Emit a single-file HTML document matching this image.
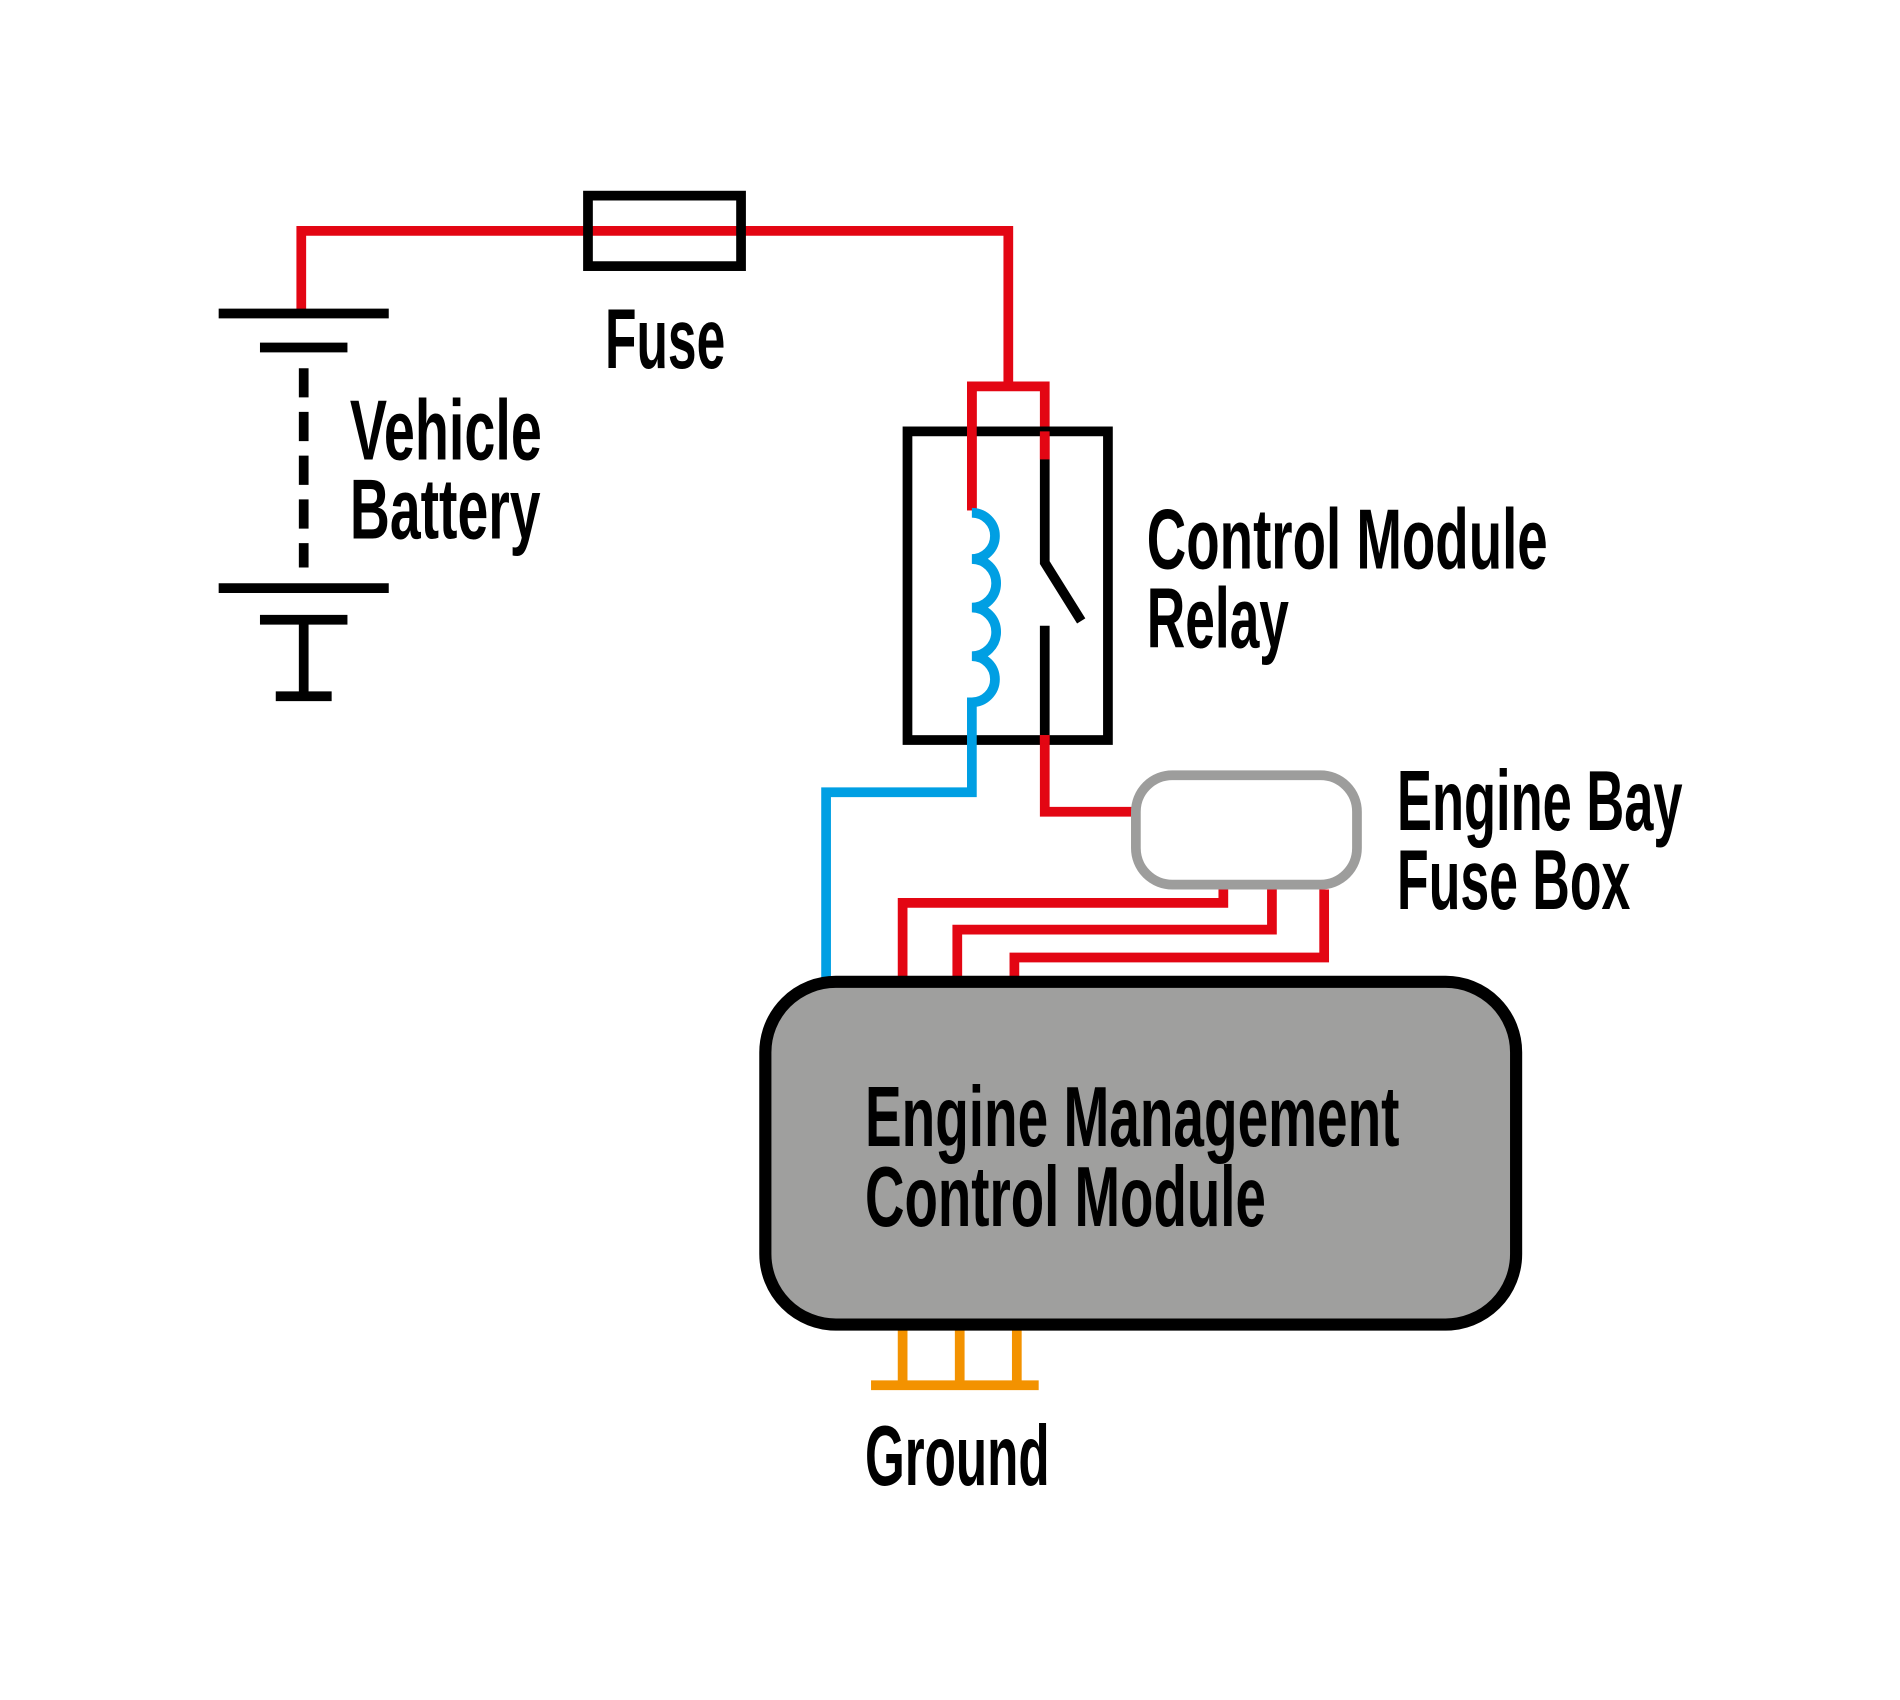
<!DOCTYPE html>
<html><head><meta charset="utf-8"><style>
html,body{margin:0;padding:0;background:#fff;}
svg{display:block;}
text{font-family:"Liberation Sans Narrow","Liberation Sans",sans-serif;font-weight:bold;font-size:70px;fill:#000;}
</style></head><body>
<svg width="1900" height="1700" viewBox="0 0 1564 1399" preserveAspectRatio="none" xmlns="http://www.w3.org/2000/svg">
<g fill="none" stroke-linecap="butt" stroke-linejoin="miter">
<!-- red top wire -->
<path d="M248 257 V190 H830 V318" stroke="#e30613" stroke-width="8"/>
<rect x="484" y="161" width="126" height="58" stroke="#000" stroke-width="8" fill="none"/>
<path d="M800 420 V318 H860 V378" stroke="#e30613" stroke-width="8"/>
<!-- relay box -->
<rect x="747" y="355" width="165" height="254" stroke="#000" stroke-width="8"/>
<path d="M800 420 V318" stroke="#e30613" stroke-width="8"/>
<path d="M860 378 V355" stroke="#e30613" stroke-width="8"/>
<!-- coil -->
<path d="M800 422 A18 18 0 0 1 800 460 A18 18 0 0 1 800 500 A18 18 0 0 1 800 540 A18 18 0 0 1 800 578 V652 H680 V806" stroke="#009fe3" stroke-width="8"/>
<!-- switch -->
<path d="M860 378 V463 L890 511" stroke="#000" stroke-width="8"/>
<path d="M860 515 V605" stroke="#000" stroke-width="8"/>
<path d="M860 605 V668 H935" stroke="#e30613" stroke-width="8"/>
<path d="M860 605 V612" stroke="#e30613" stroke-width="8"/>
<!-- fuse box -->
<rect x="935" y="638" width="182" height="90" rx="30" stroke="#9d9d9c" stroke-width="8" fill="#fff"/>
<!-- red wires to ECM -->
<path d="M1007 732 V743 H743 V808" stroke="#e30613" stroke-width="8"/>
<path d="M1047 732 V765 H788 V808" stroke="#e30613" stroke-width="8"/>
<path d="M1090 732 V788 H835 V808" stroke="#e30613" stroke-width="8"/>
<!-- ground -->
<path d="M743 1090 V1140 M790 1090 V1140 M837 1090 V1140 M717 1140 H855" stroke="#f39200" stroke-width="8"/>
<!-- ECM -->
<rect x="630" y="808" width="618" height="282" rx="58" stroke="#000" stroke-width="10" fill="#9f9f9e"/>
<!-- battery -->
<path d="M180 258 H320 M214 286 H286 M180 484 H320 M214 510 H286 M250 510 V573 M227 573 H273" stroke="#000" stroke-width="8"/>
<path d="M250 303 V467" stroke="#000" stroke-width="8" stroke-dasharray="24 12"/>
</g>
<text x="498" y="303" textLength="99" lengthAdjust="spacingAndGlyphs">Fuse</text>
<text x="288" y="378" textLength="158" lengthAdjust="spacingAndGlyphs">Vehicle</text>
<text x="288" y="443" textLength="157" lengthAdjust="spacingAndGlyphs">Battery</text>
<text x="944" y="468" textLength="330" lengthAdjust="spacingAndGlyphs">Control Module</text>
<text x="944" y="533" textLength="117" lengthAdjust="spacingAndGlyphs">Relay</text>
<text x="1150" y="683" textLength="235" lengthAdjust="spacingAndGlyphs">Engine Bay</text>
<text x="1150" y="748" textLength="192" lengthAdjust="spacingAndGlyphs">Fuse Box</text>
<text x="712" y="943" textLength="440" lengthAdjust="spacingAndGlyphs">Engine Management</text>
<text x="712" y="1009" textLength="330" lengthAdjust="spacingAndGlyphs">Control Module</text>
<text x="712" y="1222" textLength="152" lengthAdjust="spacingAndGlyphs">Ground</text>
</svg>
</body></html>
